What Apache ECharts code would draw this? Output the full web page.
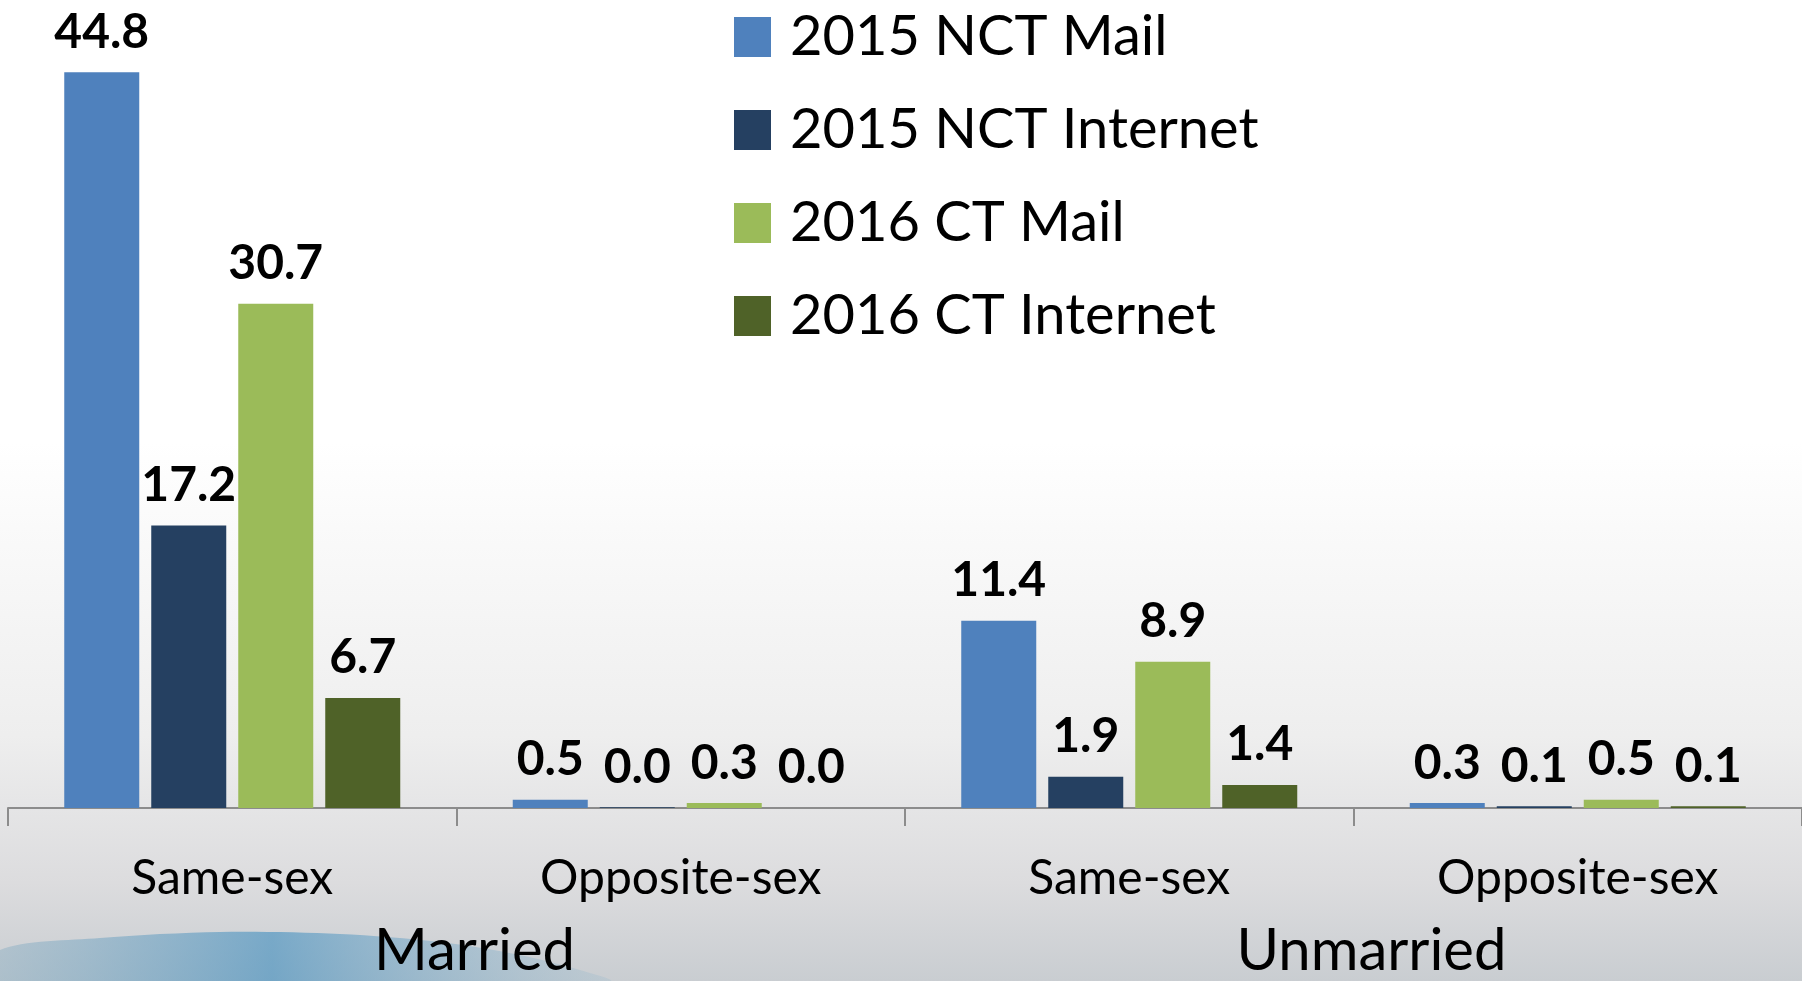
<!DOCTYPE html>
<html>
<head>
<meta charset="utf-8">
<style>
  html, body { margin: 0; padding: 0; }
  #main { width: 1802px; height: 981px; }
</style>
<script src="https://cdn.jsdelivr.net/npm/echarts@6/dist/echarts.min.js"></script>
</head>
<body>
<div id="main"></div>
<script>
var chart = echarts.init(document.getElementById('main'));

var categories = ['Same-sex', 'Opposite-sex', 'Same-sex', 'Opposite-sex'];
var groups = ['Married', 'Unmarried'];
var seriesNames = ['2015 NCT Mail', '2015 NCT Internet', '2016 CT Mail', '2016 CT Internet'];

var nctMail2015 = [44.8, 0.5, 11.4, 0.3];
var nctInternet2015 = [17.2, 0.04, 1.9, 0.1];
var ctMail2016 = [30.7, 0.3, 8.9, 0.5];
var ctInternet2016 = [6.7, 0.0, 1.4, 0.1];

var colors = ['#4f81bd', '#254061', '#9bbb59', '#4f6228'];
var font = 'Lato, "Open Sans", sans-serif';

function makeSeries(name, data, i) {
    return {
        name: name,
        type: 'bar',
        data: data,
        barWidth: 75,
        barGap: '16%',
        itemStyle: { color: colors[i] },
        label: {
            show: true,
            position: 'top',
            distance: 16,
            fontFamily: font,
            fontWeight: 'bold',
            fontSize: 48,
            color: '#000',
            formatter: function (p) { return p.value.toFixed(1); }
        }
    };
}

var option = {
    backgroundColor: {
        type: 'linear', x: 0, y: 0, x2: 0, y2: 1,
        colorStops: [
            { offset: 0, color: '#ffffff' },
            { offset: 0.45, color: '#ffffff' },
            { offset: 0.75, color: '#eeeeee' },
            { offset: 0.9, color: '#dcdcde' },
            { offset: 1, color: '#c9cdd1' }
        ]
    },
    // decorative slide swoosh, bottom left
    graphic: [{
        type: 'polygon',
        z: -1,
        shape: {
            points: [[0, 950], [100, 938], [220, 932], [340, 934], [440, 942], [520, 955], [580, 970], [610, 981], [0, 981]],
            smooth: 0.3
        },
        style: {
            fill: {
                type: 'linear', x: 0, y: 0, x2: 1, y2: 0,
                colorStops: [
                    { offset: 0, color: 'rgba(140,175,195,0.45)' },
                    { offset: 0.45, color: 'rgba(60,140,190,0.6)' },
                    { offset: 1, color: 'rgba(150,185,205,0.25)' }
                ]
            }
        }
    }],
    legend: {
        orient: 'vertical',
        left: 729,
        top: 2,
        itemWidth: 37,
        itemHeight: 40,
        itemGap: 33,
        icon: 'rect',
        data: seriesNames,
        textStyle: {
            fontFamily: font,
            fontSize: 56,
            lineHeight: 60,
            color: '#000',
            padding: [0, 0, 0, 14]
        }
    },
    grid: {
        left: 8,
        right: -6,
        top: 0,
        bottom: 173
    },
    xAxis: [{
        type: 'category',
        data: categories,
        axisLine: { lineStyle: { color: '#8c8c8c', width: 2 } },
        axisTick: { show: true, length: 18, lineStyle: { color: '#8c8c8c', width: 2 } },
        axisLabel: {
            fontFamily: font,
            fontSize: 48,
            color: '#000',
            margin: 47,
            interval: 0
        }
    }, {
        type: 'category',
        data: groups,
        position: 'bottom',
        axisLine: { show: false },
        axisTick: { show: false },
        axisLabel: {
            fontFamily: font,
            fontSize: 58,
            color: '#000',
            margin: 114,
            padding: [0, 0, 0, 36]
        }
    }],
    yAxis: {
        type: 'value',
        min: 0,
        max: 49.2,
        show: false,
        splitLine: { show: false }
    },
    series: [
        makeSeries(seriesNames[0], nctMail2015, 0),
        makeSeries(seriesNames[1], nctInternet2015, 1),
        makeSeries(seriesNames[2], ctMail2016, 2),
        makeSeries(seriesNames[3], ctInternet2016, 3)
    ]
};

chart.setOption(option);
</script>
</body>
</html>
